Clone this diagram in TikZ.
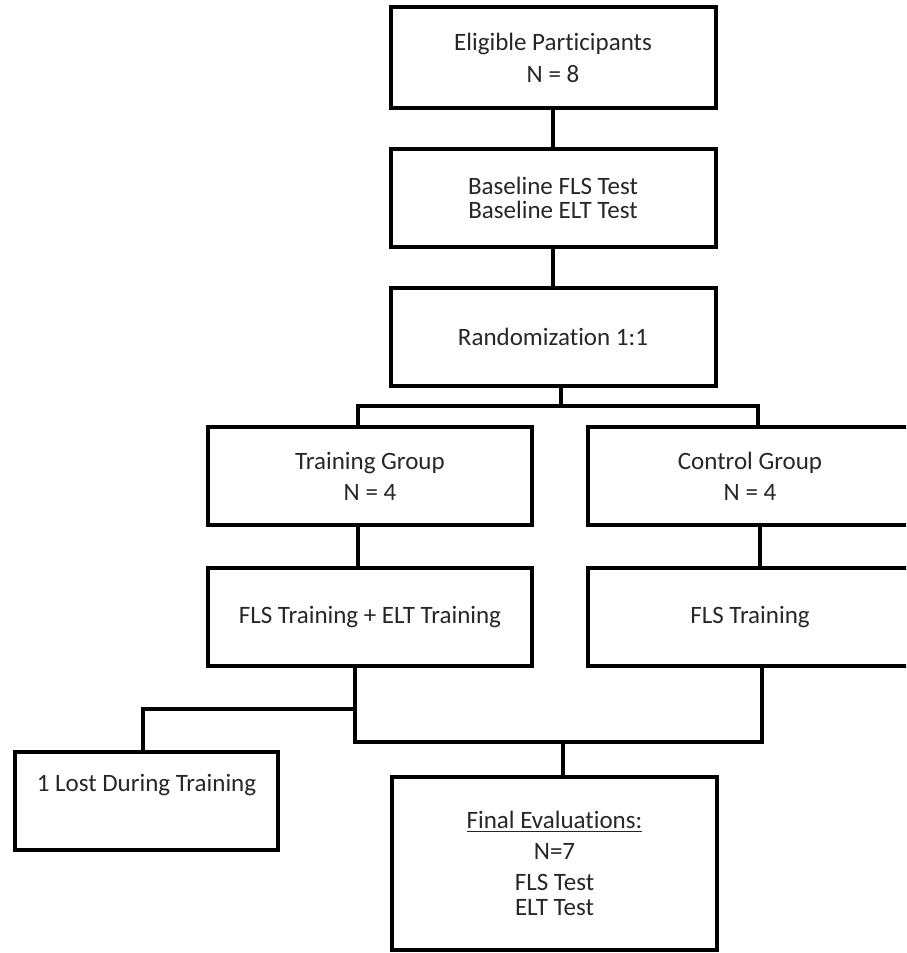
\documentclass[tikz,border=0pt]{standalone}
\usepackage{fontspec}
\setmainfont{Carlito}[Ligatures=NoCommon]
\usetikzlibrary{positioning}
\definecolor{boxborder}{HTML}{000000}
\definecolor{boxtext}{HTML}{26262C}
\tikzset{
  box/.style={
    rectangle, draw=boxborder, fill=white, line width=2pt,
    minimum width=162.5pt, minimum height=49pt, outer sep=0pt,
    align=center, text=boxtext, font=\fontsize{12.5}{13}\selectfont,
  },
  link/.style={draw=boxborder, line width=2pt},
}
\begin{document}
\begin{tikzpicture}[x=0.5pt, y=-0.5pt, node distance=20.5pt]
\clip (0,0) rectangle (906,953);

% ── main column ───────────────────────────────────────────────────────
\node[box, minimum height=50.5pt] (elig) at (553,57.5)
     {Eligible Participants\\[3pt]N = 8};
\node[box, below=of elig] (base) {Baseline FLS Test\\[-1pt]Baseline ELT Test};
\node[box, below=of base] (rand) {Randomization 1:1};

% ── two arms ──────────────────────────────────────────────────────────
\node[box, minimum width=162pt] (train) at (370,476) {Training Group\\[2.5pt]N = 4};
\node[box, minimum width=162pt, right=28pt of train] (ctrl) {Control Group\\[2.5pt]N = 4};
\node[box, minimum width=162pt, below=21.5pt of train] (trainact) {FLS Training + ELT Training};
\node[box, minimum width=162pt, below=21.5pt of ctrl]  (ctrlact)  {FLS Training};

% ── outcome row ───────────────────────────────────────────────────────
\node[box, minimum width=131.5pt] (lost) at (146.5,801)
     {1 Lost During Training\\[5pt]\mbox{}};
\node[box, minimum height=86.5pt] (final) at (554.5,863.5)
     {\underline{Final Evaluations:}\\[2.5pt]N=7\\[2.5pt]FLS Test\\[-0.5pt]ELT Test};

% ── split and join points ─────────────────────────────────────────────
\coordinate (randsplit) at (561,406);
\coordinate (splitL)    at (358,406);
\coordinate (splitR)    at (758,406);
\coordinate (lostsplit) at (355,709);
\coordinate (joinL)     at (355,742);
\coordinate (joinR)     at (762,742);
\coordinate (finaljoin) at (563,742);

% ── connectors ────────────────────────────────────────────────────────
\draw[link] (elig) -- (base);
\draw[link] (base) -- (rand);
\draw[link] (rand.south -| randsplit) -- (randsplit);
\draw[link] (train.north -| splitL) -- (splitL) -- (splitR) -- (ctrl.north -| splitR);
\draw[link] (train.south -| splitL) -- (trainact.north -| splitL);
\draw[link] (ctrl.south -| 760,0) -- (ctrlact.north -| 760,0);
\draw[link] (trainact.south -| joinL) -- (joinL) -- (joinR) -- (ctrlact.south -| joinR);
\draw[link] (lostsplit) -| (lost.north -| 143,0);
\draw[link] (finaljoin) -- (final.north -| finaljoin);

\end{tikzpicture}
\end{document}
